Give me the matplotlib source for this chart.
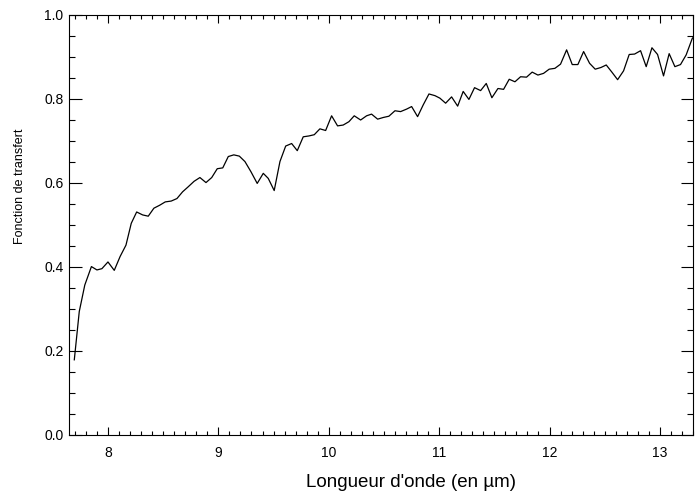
import numpy as np
import matplotlib
matplotlib.use("Agg")
import matplotlib.pyplot as plt
from matplotlib.ticker import MultipleLocator

plt.rcParams['font.family'] = ['Liberation Sans', 'DejaVu Sans']

# longueur d'onde (um) et fonction de transfert
wavelength = [7.695, 7.74, 7.79, 7.85, 7.90, 7.945, 8.00, 8.057, 8.11, 8.163,
              8.211, 8.26, 8.314, 8.365, 8.416, 8.468, 8.519, 8.573, 8.625, 8.676,
              8.727, 8.78, 8.833, 8.888, 8.94, 8.99, 9.04, 9.09, 9.14, 9.19,
              9.241, 9.295, 9.352, 9.407, 9.452, 9.506, 9.558, 9.61, 9.664, 9.715,
              9.769, 9.82, 9.869, 9.92, 9.972, 10.026, 10.08, 10.131, 10.183, 10.231,
              10.289, 10.343, 10.388, 10.443, 10.494, 10.545, 10.60, 10.651, 10.706, 10.751,
              10.805, 10.856, 10.908, 10.962, 11.007, 11.059, 11.113, 11.168, 11.218, 11.27,
              11.321, 11.376, 11.427, 11.478, 11.533, 11.584, 11.635, 11.687, 11.738, 11.792,
              11.843, 11.895, 11.946, 11.997, 12.049, 12.10, 12.155, 12.206, 12.257, 12.309,
              12.363, 12.414, 12.466, 12.514, 12.565, 12.617, 12.671, 12.722, 12.771, 12.825,
              12.876, 12.928, 12.979, 13.033, 13.084, 13.136, 13.187, 13.238, 13.293, 13.32]
transfert = [0.179, 0.294, 0.357, 0.401, 0.393, 0.396, 0.412, 0.392, 0.425, 0.452,
             0.504, 0.531, 0.524, 0.521, 0.540, 0.547, 0.555, 0.557, 0.563, 0.579,
             0.591, 0.604, 0.613, 0.601, 0.613, 0.634, 0.636, 0.663, 0.667, 0.664,
             0.651, 0.627, 0.599, 0.623, 0.611, 0.582, 0.651, 0.688, 0.694, 0.677,
             0.710, 0.712, 0.715, 0.729, 0.725, 0.760, 0.736, 0.738, 0.746, 0.760,
             0.750, 0.760, 0.764, 0.752, 0.756, 0.759, 0.772, 0.770, 0.776, 0.782,
             0.758, 0.786, 0.812, 0.808, 0.802, 0.790, 0.805, 0.783, 0.818, 0.799,
             0.827, 0.820, 0.837, 0.803, 0.825, 0.823, 0.847, 0.841, 0.853, 0.852,
             0.864, 0.857, 0.861, 0.871, 0.873, 0.883, 0.917, 0.882, 0.882, 0.913,
             0.885, 0.871, 0.875, 0.881, 0.864, 0.846, 0.867, 0.906, 0.907, 0.915,
             0.877, 0.922, 0.906, 0.855, 0.908, 0.877, 0.882, 0.905, 0.944, 0.952]

fig = plt.figure(figsize=(6.95, 4.91), dpi=100)
ax = fig.add_axes([69/695, 56/491, 624/695, 420/491])

ax.plot(wavelength, transfert, color='black', lw=0.9)

ax.set_xlim(7.647, 13.30)
ax.set_ylim(0.0, 1.0)

ax.xaxis.set_major_locator(MultipleLocator(1))
ax.xaxis.set_minor_locator(MultipleLocator(0.1))
ax.yaxis.set_major_locator(MultipleLocator(0.2))
ax.yaxis.set_minor_locator(MultipleLocator(0.05))
ax.yaxis.set_major_formatter(plt.FormatStrFormatter('%.1f'))

ax.tick_params(axis='both', which='both', direction='in', top=True, right=True,
               color='black', width=0.8, labelsize=10)
ax.tick_params(axis='x', which='major', length=6, pad=8)
ax.tick_params(axis='x', which='minor', length=3)
ax.tick_params(axis='y', which='major', length=9, pad=4)
ax.tick_params(axis='y', which='minor', length=4.5)

for s in ax.spines.values():
    s.set_linewidth(0.8)

fig.text(411/695, 4/491, "Longueur d'onde (en µm)", ha='center', va='baseline',
         fontsize=13.5)
fig.text(20/695, (491-186)/491, "Fonction de transfert", ha='center', va='center',
         rotation=90, fontsize=9)

fig.savefig('out.png', dpi=100)
